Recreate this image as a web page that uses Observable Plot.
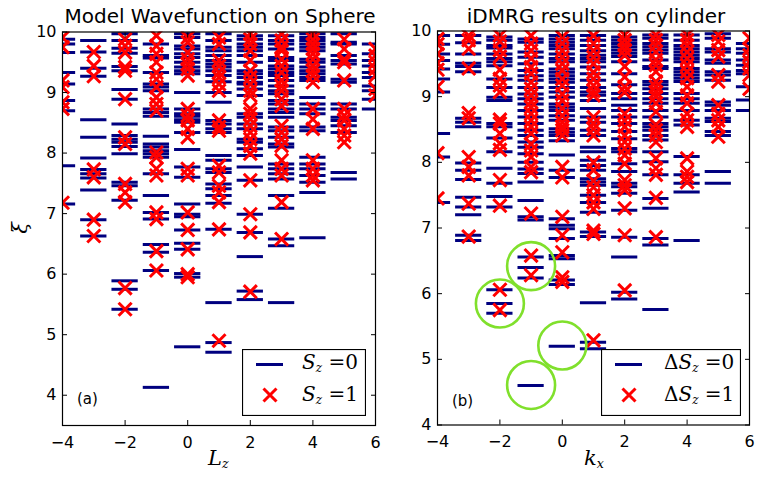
<!DOCTYPE html>
<html><head><meta charset="utf-8">
<script src="https://cdn.jsdelivr.net/npm/d3@7"></script>
<script src="https://cdn.jsdelivr.net/npm/@observablehq/plot@0.6"></script>
<style>
body{margin:0;background:#fff;}
#wrap{position:relative;width:764px;height:487px;font-family:"DejaVu Sans",sans-serif;color:#000;overflow:hidden;}
.abs{position:absolute;white-space:nowrap;}
.title{font-size:20px;transform:translateX(-50%);}
.math{font-family:"DejaVu Serif","Liberation Serif",serif;font-style:italic;}
.math sub{font-size:60%;vertical-align:-0.25em;}
.up{font-style:normal;}
</style></head><body><div id="wrap"></div>
<script>
// ---------------- data ----------------
const kValues = [-4, -3, -2, -1, 0, 1, 2, 3, 4, 5, 6];
const xTicks = [-4, -2, 0, 2, 4, 6];
const yTicks = [4, 5, 6, 7, 8, 9, 10];

// (a) Model wavefunction on sphere: levels per L_z (aligned with kValues)
const sphereSz0 = [
  [9.88, 9.80, 9.66, 9.33, 9.14, 8.87, 8.70, 7.79, 7.16],
  [9.86, 9.67, 9.40, 9.27, 8.55, 8.26, 7.92, 7.73, 7.66, 7.59, 7.39, 6.90, 6.63],
  [9.97, 9.86, 9.73, 9.65, 9.43, 9.36, 9.05, 8.89, 8.48, 8.29, 8.23, 8.18, 8.11, 7.99, 7.52, 7.46, 7.22, 5.89, 5.75, 5.42],
  [9.80, 9.61, 9.57, 9.33, 9.14, 9.09, 9.03, 8.73, 8.67, 8.61, 8.28, 8.15, 8.10, 8.04, 7.99, 7.93, 7.66, 7.30, 7.02, 6.91, 6.49, 6.36, 6.06, 4.13],
  [9.97, 9.91, 9.77, 9.72, 9.64, 9.58, 9.50, 9.42, 9.36, 9.31, 9.00, 8.73, 8.65, 8.61, 8.55, 8.51, 8.34, 8.06, 7.77, 7.60, 7.16, 6.99, 6.95, 6.73, 6.51, 6.41, 6.01, 5.95, 4.80],
  [9.97, 9.86, 9.75, 9.69, 9.61, 9.53, 9.47, 9.42, 9.36, 9.28, 9.18, 9.00, 8.84, 8.54, 8.48, 8.40, 8.34, 7.96, 7.88, 7.74, 7.68, 7.49, 7.41, 7.30, 7.17, 6.74, 5.53, 4.87, 4.71],
  [9.94, 9.88, 9.80, 9.75, 9.69, 9.61, 9.50, 9.36, 9.31, 9.25, 9.17, 9.14, 9.06, 8.95, 8.65, 8.59, 8.48, 8.40, 8.23, 8.18, 8.07, 7.96, 7.77, 7.55, 6.99, 6.69, 6.29, 5.72, 5.58],
  [9.94, 9.86, 9.80, 9.72, 9.58, 9.53, 9.44, 9.39, 9.33, 9.28, 9.20, 9.11, 9.03, 8.98, 8.87, 8.81, 8.73, 8.67, 8.59, 8.43, 8.37, 8.26, 8.15, 8.10, 7.82, 7.74, 7.66, 7.57, 7.30, 7.09, 6.58, 6.47, 5.53],
  [9.97, 9.91, 9.86, 9.80, 9.75, 9.69, 9.55, 9.50, 9.42, 9.36, 9.31, 9.25, 9.20, 8.92, 8.81, 8.73, 8.65, 8.43, 8.37, 7.93, 7.82, 7.74, 7.63, 7.52, 7.35, 6.60],
  [9.97, 9.83, 9.80, 9.61, 9.53, 9.47, 9.22, 9.17, 8.81, 8.73, 8.59, 8.54, 8.45, 8.34, 7.68, 7.57],
  [9.80, 9.64, 9.53, 9.44, 9.33, 9.25, 9.11, 9.03, 8.89, 8.73]
];
const sphereSz1 = [
  [9.91, 9.75, 9.20, 9.09, 8.84, 8.73, 7.18],
  [9.67, 9.44, 9.27, 7.73, 7.60, 6.90, 6.63],
  [9.88, 9.77, 9.66, 9.42, 9.36, 8.89, 8.26, 8.15, 7.49, 7.35, 7.19, 5.77, 5.42],
  [9.94, 9.77, 9.64, 9.50, 9.33, 9.22, 9.09, 8.92, 8.81, 8.70, 8.01, 7.93, 7.74, 7.63, 7.02, 6.91, 6.38, 6.06],
  [9.91, 9.83, 9.66, 9.55, 9.47, 9.39, 9.28, 8.73, 8.62, 8.54, 8.40, 8.26, 7.74, 7.63, 7.02, 6.73, 6.41, 6.00, 5.95],
  [9.91, 9.80, 9.53, 9.44, 9.33, 9.25, 9.14, 9.03, 8.54, 8.43, 8.37, 7.79, 7.68, 7.46, 7.35, 7.19, 6.74, 4.90],
  [9.97, 9.88, 9.80, 9.69, 9.53, 9.36, 9.25, 9.14, 9.03, 8.95, 8.73, 8.65, 8.56, 8.45, 8.34, 8.23, 8.12, 7.99, 7.55, 6.99, 6.69, 5.71],
  [9.97, 9.86, 9.75, 9.69, 9.55, 9.44, 9.33, 9.20, 9.11, 9.03, 8.89, 8.78, 8.45, 8.34, 8.23, 8.12, 7.88, 7.74, 7.63, 7.19, 6.58],
  [9.97, 9.88, 9.80, 9.72, 9.64, 9.55, 9.44, 9.36, 9.28, 9.17, 8.73, 8.56, 8.40, 7.88, 7.74, 7.63, 7.55],
  [9.88, 9.72, 9.55, 9.50, 9.20, 8.73, 8.62, 8.54, 8.40, 8.29, 8.18],
  [9.72, 9.61, 9.50, 9.39, 9.28, 9.06, 8.95]
];

// (b) iDMRG results on cylinder: levels per k_x (aligned with kValues)
const cylSz0 = [
  [9.93, 9.80, 9.65, 9.55, 9.42, 9.27, 9.07, 8.44, 8.08, 7.39],
  [9.93, 9.82, 9.65, 9.51, 9.46, 9.38, 8.67, 8.61, 8.54, 7.99, 7.88, 7.74, 7.47, 7.32, 7.20, 6.89, 6.81],
  [9.91, 9.86, 9.78, 9.74, 9.65, 9.58, 9.53, 9.47, 9.27, 9.14, 8.99, 8.94, 8.59, 8.54, 8.37, 8.16, 7.91, 7.68, 7.48, 7.32, 6.06, 5.85, 5.70],
  [9.88, 9.83, 9.68, 9.60, 9.50, 9.40, 9.32, 9.25, 9.14, 9.04, 8.97, 8.89, 8.79, 8.69, 8.59, 8.49, 8.41, 8.31, 8.23, 8.13, 8.00, 7.90, 7.83, 7.70, 7.42, 7.17, 7.12, 6.56, 6.40, 6.24, 4.60],
  [9.93, 9.88, 9.83, 9.78, 9.73, 9.65, 9.58, 9.53, 9.42, 9.37, 9.32, 9.27, 9.22, 9.14, 9.07, 8.99, 8.89, 8.84, 8.79, 8.71, 8.64, 8.51, 8.46, 8.41, 8.33, 8.11, 7.88, 7.77, 7.14, 7.04, 6.99, 6.84, 6.58, 6.53, 6.21, 6.14, 5.20],
  [9.93, 9.86, 9.78, 9.70, 9.63, 9.58, 9.53, 9.45, 9.35, 9.25, 9.14, 9.07, 9.02, 8.94, 8.82, 8.69, 8.61, 8.49, 8.41, 8.23, 8.16, 8.03, 7.95, 7.88, 7.75, 7.70, 7.65, 7.50, 7.39, 7.24, 6.94, 6.87, 5.86, 5.26, 5.16],
  [9.91, 9.86, 9.81, 9.76, 9.71, 9.66, 9.61, 9.53, 9.35, 9.18, 9.05, 8.97, 8.87, 8.79, 8.69, 8.59, 8.47, 8.36, 8.21, 8.16, 7.98, 7.86, 7.68, 7.63, 7.53, 7.27, 6.86, 6.56, 6.02, 5.92],
  [9.94, 9.89, 9.81, 9.76, 9.71, 9.66, 9.56, 9.46, 9.43, 9.23, 9.18, 9.12, 9.05, 8.97, 8.90, 8.79, 8.69, 8.59, 8.54, 8.49, 8.41, 8.34, 8.16, 8.01, 7.81, 7.45, 7.30, 6.84, 6.74, 5.76],
  [9.94, 9.86, 9.78, 9.73, 9.68, 9.63, 9.58, 9.53, 9.43, 9.38, 9.33, 9.28, 9.23, 9.05, 8.97, 8.90, 8.79, 8.64, 8.57, 8.09, 7.81, 7.68, 7.55, 6.81],
  [9.96, 9.89, 9.73, 9.68, 9.56, 9.51, 9.38, 9.33, 9.25, 8.92, 8.87, 8.79, 8.67, 8.62, 8.47, 8.41, 7.86, 7.68],
  [9.81, 9.73, 9.66, 9.56, 9.48, 9.40, 9.35, 9.15, 8.95, 8.79]
];
const cylSz1 = [
  [9.88, 9.80, 9.65, 9.51, 9.41, 9.15, 8.14, 7.45],
  [9.93, 9.86, 9.73, 9.43, 8.75, 8.67, 8.08, 7.93, 7.80, 7.37, 6.87],
  [9.93, 9.84, 9.71, 9.61, 9.41, 9.27, 9.17, 9.07, 8.65, 8.59, 8.44, 8.29, 8.19, 7.73, 7.34, 6.06, 5.75],
  [9.93, 9.81, 9.70, 9.58, 9.45, 9.35, 9.22, 9.12, 9.02, 8.92, 8.84, 8.74, 8.64, 8.54, 8.44, 8.28, 8.18, 8.08, 7.93, 7.85, 7.22, 6.58, 6.28],
  [9.91, 9.81, 9.70, 9.60, 9.50, 9.40, 9.27, 9.17, 9.04, 8.94, 8.82, 8.71, 8.61, 8.54, 8.49, 8.41, 7.93, 7.77, 7.17, 6.89, 6.63, 6.25, 6.18],
  [9.93, 9.81, 9.70, 9.60, 9.50, 9.37, 9.27, 9.17, 9.09, 9.02, 8.69, 8.59, 8.51, 8.41, 8.00, 7.88, 7.72, 7.62, 7.50, 7.39, 7.29, 6.96, 6.91, 5.29],
  [9.94, 9.86, 9.78, 9.71, 9.63, 9.46, 9.30, 9.15, 9.07, 8.74, 8.64, 8.54, 8.41, 8.31, 8.21, 8.11, 7.98, 7.73, 7.65, 7.58, 7.30, 6.89, 6.05],
  [9.94, 9.86, 9.78, 9.68, 9.56, 9.48, 9.38, 9.23, 9.15, 9.07, 9.00, 8.90, 8.77, 8.57, 8.49, 8.41, 8.31, 8.06, 7.91, 7.81, 7.46, 6.86],
  [9.94, 9.86, 9.78, 9.68, 9.58, 9.48, 9.38, 9.28, 9.15, 9.02, 8.90, 8.74, 8.64, 8.54, 8.06, 7.86, 7.78, 7.70],
  [9.94, 9.84, 9.71, 9.61, 9.33, 9.23, 8.87, 8.74, 8.64, 8.54, 8.39],
  [9.89, 9.73, 9.63, 9.53, 9.43, 9.33, 9.12]
];
// highlighted levels (green circles) in panel (b)
const circleK = [-2, -1, 0, -1];
const circleV = [5.85, 6.42, 5.21, 4.61];

// ---------------- drawing ----------------
const NAVY = "#00007f", RED = "#ff0000", GREEN = "#80e02c";
const fmt = d => d < 0 ? "\u2212" + Math.abs(d) : String(d);

function panel({s0, s1, yDomain, width, ml, mr, mt, mb, circles}) {
  const bars = kValues.flatMap((k, i) => s0[i].map(v => ({k, v})));
  const xs = kValues.flatMap((k, i) => s1[i].map(v => ({k, v})));
  return Plot.plot({
    width, height: 487,
    marginLeft: ml, marginRight: mr, marginTop: mt, marginBottom: mb,
    style: {fontFamily: "DejaVu Sans", fontSize: "16px", color: "#000", background: "transparent", overflow: "visible"},
    x: {domain: [-4, 6]},
    y: {domain: yDomain},
    marks: [
      Plot.ruleY(bars, {y: "v", x1: d => d.k - 0.42, x2: d => d.k + 0.42, stroke: NAVY, strokeWidth: 3, clip: true}),
      Plot.dot(xs, {x: "k", y: "v", symbol: "times", r: 6, stroke: RED, fill: "none", strokeWidth: 3, clip: true}),
      circles ? Plot.dot(circles, {x: "k", y: "v", r: 24, stroke: GREEN, fill: "none", strokeWidth: 2.6}) : null,
      Plot.frame({stroke: "#000", strokeWidth: 1.2}),
      Plot.axisX({anchor: "bottom", ticks: xTicks, tickSize: -5, tickPadding: 16, tickFormat: fmt, label: null}),
      Plot.axisX({anchor: "top", ticks: xTicks, tickSize: -5, tickFormat: () => "", label: null}),
      Plot.axisY({anchor: "left", ticks: yTicks, tickSize: -5, tickPadding: 11, tickFormat: fmt, label: null}),
      Plot.axisY({anchor: "right", ticks: yTicks, tickSize: -5, tickFormat: () => "", label: null})
    ]
  });
}

const wrap = document.getElementById("wrap");
function place(node, left, top) {
  node.style.position = "absolute"; node.style.left = left + "px"; node.style.top = top + "px";
  wrap.appendChild(node);
}

place(panel({s0: sphereSz0, s1: sphereSz1, yDomain: [3.5, 10], width: 380, ml: 62, mr: 5, mt: 31.5, mb: 62}), 0, 0);
const circles = circleK.map((k, i) => ({k, v: circleV[i]}));
place(panel({s0: cylSz0, s1: cylSz1, yDomain: [4, 10], width: 384, ml: 57, mr: 15, mt: 30.5, mb: 62.5, circles}), 380, 0);

function html(str, left, top, cls, extra) {
  const d = document.createElement("div");
  d.className = "abs " + (cls || "");
  d.innerHTML = str;
  d.style.left = left + "px"; d.style.top = top + "px";
  if (extra) Object.assign(d.style, extra);
  wrap.appendChild(d);
  return d;
}

// titles
html("Model Wavefunction on Sphere", 220, 4, "title");
html("iDMRG results on cylinder", 596, 4, "title");
// axis labels
html("L<sub>z</sub>", 208, 446, "math", {fontSize: "21px"});
html("k<sub>x</sub>", 584, 446, "math", {fontSize: "21px"});
html("\u03be", 14, 216, "math", {fontSize: "21px", transform: "rotate(-90deg)"});
// panel tags
html("(a)", 77, 390, "", {fontSize: "15px"});
html("(b)", 452, 392, "", {fontSize: "15px"});

// legends
function legend(left, top, w, labels) {
  const h = 67;
  const svg = d3.create("svg").attr("width", w).attr("height", h)
    .style("position", "absolute").style("left", left + "px").style("top", top + "px");
  svg.append("rect").attr("x", 0.5).attr("y", 0.5).attr("width", w - 1).attr("height", h - 1)
    .attr("fill", "#fff").attr("stroke", "#000").attr("stroke-width", 1.2);
  svg.append("line").attr("x1", 14).attr("x2", 41).attr("y1", 15.5).attr("y2", 15.5)
    .attr("stroke", NAVY).attr("stroke-width", 3);
  svg.append("path").attr("d", "M21.5,39.5L34.5,52.5M21.5,52.5L34.5,39.5")
    .attr("stroke", RED).attr("stroke-width", 3).attr("fill", "none");
  wrap.appendChild(svg.node());
  html(labels[0], left + labels[2], top + 1, "math", {fontSize: "20px"});
  html(labels[1], left + labels[2], top + 33, "math", {fontSize: "20px"});
}
legend(242, 349, 124, ["S<sub>z</sub> <span class='up'>=0</span>", "S<sub>z</sub> <span class='up'>=1</span>", 60]);
legend(601, 349, 140, ["<span class='up'>\u0394</span>S<sub>z</sub> <span class='up'>=0</span>", "<span class='up'>\u0394</span>S<sub>z</sub> <span class='up'>=1</span>", 63]);
</script>
</body></html>
